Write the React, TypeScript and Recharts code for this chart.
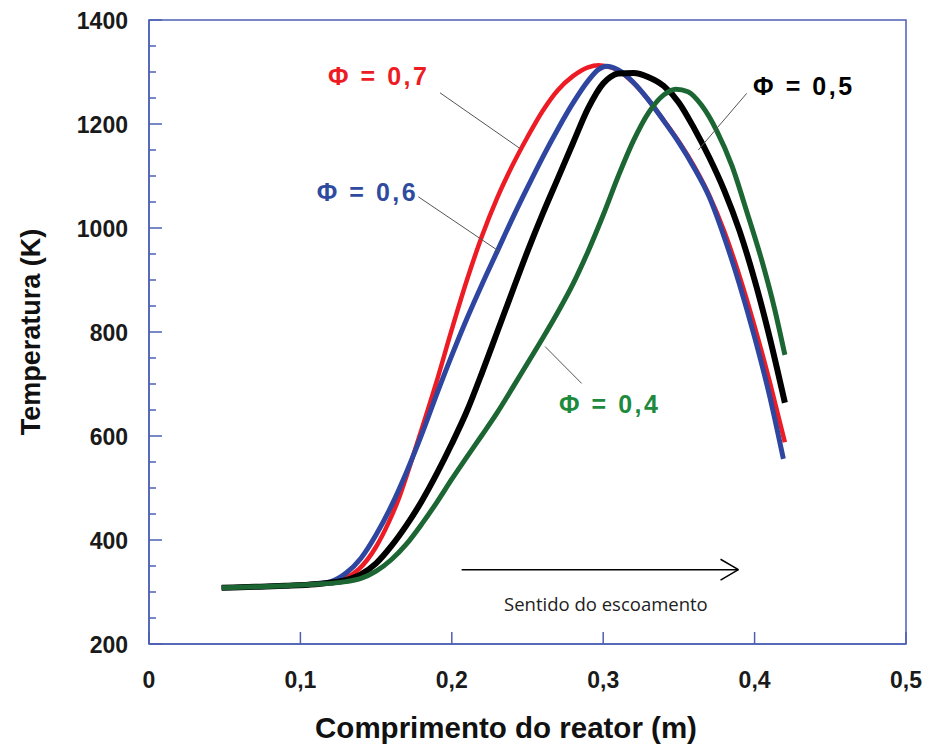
import { LineChart, Line, XAxis, YAxis, ReferenceArea, ReferenceLine, ReferenceDot } from 'recharts'

// Temperature profiles along the reactor for four equivalence ratios
document.body.style.margin = '0'

const phi07 = [
  [0.048, 308], [0.07, 310], [0.09, 312], [0.11, 316], [0.12, 319], [0.13, 327],
  [0.139, 345], [0.15, 387], [0.158, 432], [0.165, 480], [0.172, 540], [0.18, 612],
  [0.19, 705], [0.2, 805], [0.21, 900], [0.22, 985], [0.23, 1058], [0.24, 1120],
  [0.25, 1175], [0.26, 1225], [0.27, 1265], [0.28, 1292], [0.29, 1309], [0.297, 1313],
  [0.30, 1312], [0.31, 1303], [0.32, 1279], [0.33, 1246], [0.34, 1207], [0.35, 1166],
  [0.36, 1119], [0.37, 1063], [0.38, 993], [0.39, 908], [0.4, 811], [0.41, 704],
  [0.42, 588],
]

const phi06 = [
  [0.048, 308], [0.07, 310], [0.09, 312], [0.11, 316], [0.12, 320], [0.13, 336],
  [0.14, 365], [0.15, 410], [0.16, 465], [0.17, 530], [0.18, 602], [0.19, 680],
  [0.2, 755], [0.21, 826], [0.22, 892], [0.23, 955], [0.24, 1018], [0.25, 1078],
  [0.26, 1136], [0.27, 1190], [0.28, 1240], [0.29, 1283], [0.297, 1305], [0.302, 1311],
  [0.31, 1304], [0.32, 1280], [0.33, 1246], [0.34, 1206], [0.35, 1164], [0.36, 1116],
  [0.37, 1060], [0.38, 982], [0.39, 892], [0.4, 790], [0.41, 676], [0.419, 556],
]

const phi05 = [
  [0.048, 308], [0.07, 310], [0.09, 312], [0.11, 315], [0.12, 318], [0.13, 323],
  [0.14, 334], [0.15, 355], [0.16, 388], [0.17, 428], [0.18, 474], [0.19, 527],
  [0.2, 585], [0.21, 648], [0.22, 722], [0.23, 800], [0.24, 878], [0.25, 955],
  [0.26, 1027], [0.27, 1095], [0.28, 1163], [0.29, 1230], [0.3, 1278], [0.305, 1291],
  [0.31, 1297], [0.32, 1298], [0.33, 1290], [0.34, 1273], [0.35, 1241], [0.36, 1192],
  [0.37, 1136], [0.38, 1072], [0.39, 995], [0.4, 900], [0.41, 789], [0.42, 664],
]

const phi04 = [
  [0.048, 308], [0.07, 310], [0.09, 312], [0.11, 315], [0.125, 318], [0.13, 320],
  [0.14, 326], [0.15, 340], [0.16, 362], [0.17, 392], [0.18, 430], [0.19, 472],
  [0.2, 517], [0.21, 560], [0.22, 602], [0.23, 645], [0.24, 692], [0.25, 740],
  [0.26, 788], [0.27, 838], [0.28, 892], [0.29, 955], [0.3, 1025], [0.31, 1100],
  [0.32, 1168], [0.33, 1222], [0.34, 1256], [0.348, 1267], [0.356, 1262], [0.365, 1236],
  [0.375, 1187], [0.385, 1120], [0.395, 1030], [0.405, 935], [0.413, 847], [0.42, 756],
]

const xTicks = [0, 0.1, 0.2, 0.3, 0.4, 0.5]
const yTicks = [
  200, 250, 300, 350, 400, 450, 500, 550, 600, 650, 700, 750, 800, 850, 900, 950,
  1000, 1050, 1100, 1150, 1200, 1250, 1300, 1350, 1400,
]
const yLabels = [200, 400, 600, 800, 1000, 1200, 1400]

const toRows = (pts: number[][]) => pts.map(([x, t]) => ({ x, t }))

const FRAME = '#4d5fb5'
const FONT = '"Liberation Sans", Arial, sans-serif'

const series = [
  { key: '0,7', rows: toRows(phi07), color: '#ed1c24', width: 4.5 },
  { key: '0,6', rows: toRows(phi06), color: '#2e46a0', width: 5 },
  { key: '0,5', rows: toRows(phi05), color: '#000000', width: 6 },
  { key: '0,4', rows: toRows(phi04), color: '#1b6632', width: 5 },
]

// text position (left, baseline) and leader line ends, in data units
const callouts = [
  { text: 'Φ = 0,7', color: '#ed1c24', at: [0.1182, 1275], line: [[0.1922, 1260], [0.245, 1153]] },
  { text: 'Φ = 0,6', color: '#2f4b9f', at: [0.1108, 1052], line: [[0.1779, 1060], [0.2318, 954]] },
  { text: 'Φ = 0,5', color: '#000000', at: [0.399, 1256], line: [[0.3948, 1259], [0.3628, 1150]] },
  { text: 'Φ = 0,4', color: '#1d8a3e', at: [0.2708, 644], line: [[0.2858, 701], [0.2616, 772]] },
]

const YTick = ({ x, y, payload }: any) => {
  const major = yLabels.includes(payload.value)
  return (
    <g>
      <line x1={x} x2={x + (major ? 13 : 7)} y1={y} y2={y} stroke={FRAME} strokeWidth={1.5} />
      {major && (
        <text x={x - 21} y={y + 8.5} textAnchor="end" fill="#1a1a1a" fontSize={23} fontWeight="bold" fontFamily={FONT}>
          {payload.value}
        </text>
      )}
    </g>
  )
}

const XTick = ({ x, y, payload }: any) => (
  <g>
    <line x1={x} x2={x} y1={y} y2={y - 12} stroke={FRAME} strokeWidth={1.5} />
    <text x={x} y={y + 44} textAnchor="middle" fill="#1a1a1a" fontSize={23} fontWeight="bold" fontFamily={FONT}>
      {String(payload.value).replace('.', ',')}
    </text>
  </g>
)

const phiText = (text: string, color: string) => (props: any) => {
  const vb = props.viewBox || { x: 0, y: 0 }
  return (
    <text
      x={vb.x}
      y={vb.y}
      fill={color}
      fontSize={25}
      fontWeight="bold"
      fontFamily={FONT}
      textLength={99}
      lengthAdjust="spacing"
    >
      {text}
    </text>
  )
}

const noteText = (text: string) => (props: any) => {
  const vb = props.viewBox || { x: 0, y: 0 }
  return (
    <text x={vb.x} y={vb.y} fill="#222" fontSize={18.5} fontFamily='"Open Sans", sans-serif'>
      {text}
    </text>
  )
}

export default function App() {
  return (
    <LineChart width={926} height={746} margin={{ top: 20, right: 20, left: 0, bottom: 0 }}>
      <XAxis
        dataKey="x"
        type="number"
        domain={[0, 0.5]}
        ticks={xTicks}
        interval={0}
        height={102}
        tickSize={0}
        tickMargin={0}
        tickLine={false}
        axisLine={{ stroke: FRAME, strokeWidth: 1.5 }}
        tick={<XTick />}
        label={() => (
          <text x={506} y={738} textAnchor="middle" fill="#111" fontSize={29.5} fontWeight="bold" fontFamily={FONT}>
            Comprimento do reator (m)
          </text>
        )}
      />
      <YAxis
        type="number"
        domain={[200, 1400]}
        ticks={yTicks}
        interval={0}
        width={149}
        tickSize={0}
        tickMargin={0}
        tickLine={false}
        axisLine={{ stroke: FRAME, strokeWidth: 1.5 }}
        tick={<YTick />}
        label={() => (
          <text
            x={40}
            y={332}
            transform="rotate(-90 40 332)"
            textAnchor="middle"
            fill="#111"
            fontSize={27}
            fontWeight="bold"
            fontFamily={FONT}
          >
            Temperatura (K)
          </text>
        )}
      />
      <ReferenceArea x1={0} x2={0.5} y1={200} y2={1400} fill="none" fillOpacity={0} stroke={FRAME} strokeWidth={1.5} />

      {series.map(s => (
        <Line
          key={s.key}
          data={s.rows}
          dataKey="t"
          type="monotone"
          stroke={s.color}
          strokeWidth={s.width}
          dot={false}
          activeDot={false}
          isAnimationActive={false}
        />
      ))}

      {callouts.map(c => (
        <ReferenceLine
          key={'l' + c.text}
          segment={[{ x: c.line[0][0], y: c.line[0][1] }, { x: c.line[1][0], y: c.line[1][1] }]}
          stroke="#555"
          strokeWidth={1}
        />
      ))}
      {callouts.map(c => (
        <ReferenceDot
          key={'t' + c.text}
          x={c.at[0]}
          y={c.at[1]}
          r={0}
          fill="none"
          stroke="none"
          label={phiText(c.text, c.color)}
        />
      ))}

      {/* flow direction arrow */}
      <ReferenceLine segment={[{ x: 0.2065, y: 343 }, { x: 0.3893, y: 343 }]} stroke="#000" strokeWidth={1.5} />
      <ReferenceLine segment={[{ x: 0.3775, y: 363 }, { x: 0.3893, y: 343 }]} stroke="#000" strokeWidth={1.5} />
      <ReferenceLine segment={[{ x: 0.3775, y: 323 }, { x: 0.3893, y: 343 }]} stroke="#000" strokeWidth={1.5} />
      <ReferenceDot x={0.2345} y={263} r={0} fill="none" stroke="none" label={noteText('Sentido do escoamento')} />
    </LineChart>
  )
}
